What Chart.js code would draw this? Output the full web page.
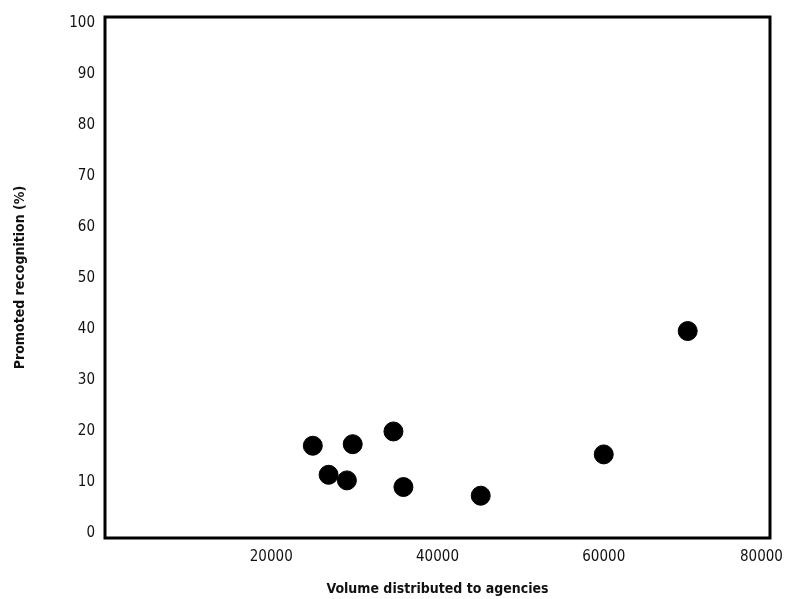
<!DOCTYPE html>
<html>
<head>
<meta charset="utf-8">
<script src="https://cdn.jsdelivr.net/npm/chart.js@4/dist/chart.umd.min.js"></script>
<style>
html,body{margin:0;padding:0;background:#fff;}
#wrap{width:785px;height:599px;}
</style>
</head>
<body>
<div id="wrap"><canvas id="c"></canvas></div>
<script>
const volume = [25000, 29800, 34700, 26900, 29100, 35900, 45200, 70100, 60000];
const recognition = [17.1, 17.4, 19.9, 11.4, 10.3, 9.0, 7.3, 39.6, 15.4];
const xTicks = [20000, 40000, 60000, 80000];
const yTicks = [0, 10, 20, 30, 40, 50, 60, 70, 80, 90, 100];
const xTitle = 'Volume distributed to agencies';
const yTitle = 'Promoted recognition (%)';

const FONT = '"Liberation Sans Narrow", "DejaVu Sans Condensed", sans-serif';

const frame = {
  id: 'frame',
  afterDraw(chart) {
    const a = chart.chartArea, ctx = chart.ctx;
    ctx.save();
    ctx.strokeStyle = '#000';
    ctx.lineWidth = 3;
    ctx.strokeRect(a.left, a.top, a.right - a.left, a.bottom - a.top);
    ctx.restore();
  }
};

new Chart(document.getElementById('c'), {
  type: 'scatter',
  data: {
    datasets: [{
      data: volume.map((v, i) => ({x: v, y: recognition[i]})),
      backgroundColor: '#000',
      borderColor: '#000',
      pointRadius: 9.5,
      pointHoverRadius: 9.5
    }]
  },
  options: {
    responsive: true,
    maintainAspectRatio: false,
    animation: false,
    layout: {padding: {top: 17, right: 15, left: 0, bottom: 0}},
    plugins: {legend: {display: false}, tooltip: {enabled: false}},
    scales: {
      x: {
        type: 'linear',
        min: 0, max: 80000,
        afterBuildTicks: s => { s.ticks = xTicks.map(v => ({value: v})); },
        afterFit: s => { s.height = 61; s.paddingLeft = 0; s.paddingRight = 0; },
        grid: {display: false, drawTicks: false},
        border: {display: false},
        ticks: {color: '#111', padding: 10, font: {family: FONT, size: 15}, maxRotation: 0,
          callback: v => v === xTicks[xTicks.length - 1] ? String(v) + '    ' : String(v)},
        title: {display: true, text: xTitle, color: '#111', padding: {top: 0, bottom: 1},
          font: {family: FONT, size: 14, weight: 'bold'}}
      },
      y: {
        type: 'linear',
        min: -1, max: 101.2,
        afterBuildTicks: s => { s.ticks = yTicks.map(v => ({value: v})); },
        afterFit: s => { s.width = 105; s.paddingTop = 0; s.paddingBottom = 0; },
        grid: {display: false, drawTicks: false},
        border: {display: false},
        ticks: {color: '#111', padding: 10, font: {family: FONT, size: 15},
          callback: v => String(v)},
        title: {display: true, text: yTitle, color: '#111', padding: {top: 12, bottom: 0},
          font: {family: FONT, size: 14, weight: 'bold'}}
      }
    }
  },
  plugins: [frame]
});
</script>
</body>
</html>
